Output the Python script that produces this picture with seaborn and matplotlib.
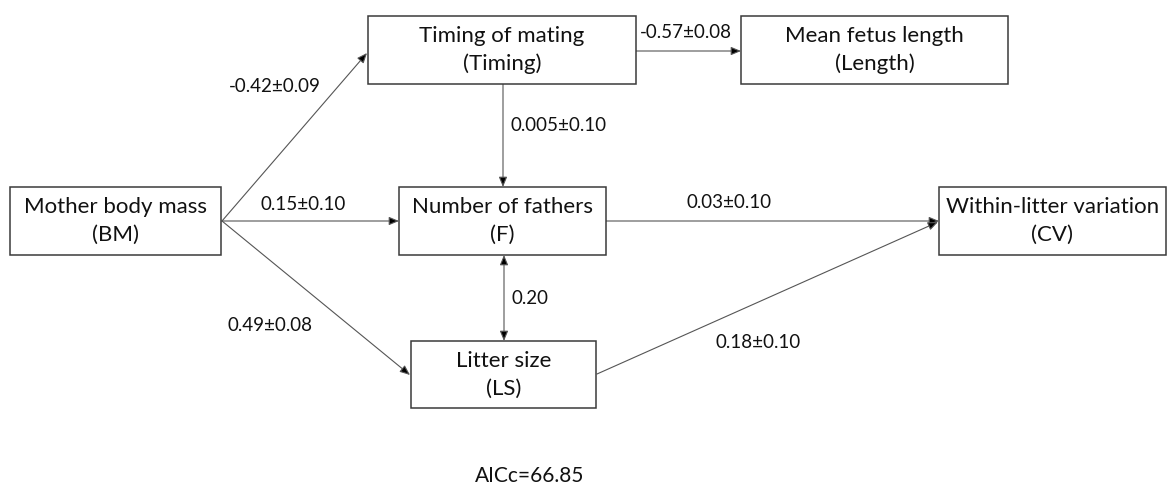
import matplotlib
matplotlib.use("Agg")
import matplotlib.pyplot as plt
from matplotlib.patches import Rectangle
import seaborn as sns

# Path model: nodes (variables) and edges (standardised coefficients)
node_ids = ["BM", "Timing", "Length", "F", "LS", "CV"]
node_titles = ["Mother body mass", "Timing of mating", "Mean fetus length",
               "Number of fathers", "Litter size", "Within-litter variation"]
node_abbr = ["(BM)", "(Timing)", "(Length)", "(F)", "(LS)", "(CV)"]

edge_from = ["BM", "BM", "BM", "Timing", "Timing", "F", "LS", "F"]
edge_to = ["Timing", "F", "LS", "Length", "F", "CV", "CV", "LS"]
edge_coef = ["-0.42±0.09", "0.15±0.10", "0.49±0.08", "-0.57±0.08",
             "0.005±0.10", "0.03±0.10", "0.18±0.10", "0.20"]
edge_twoway = [False, False, False, False, False, False, False, True]

model_fit = "AICc=66.85"

# layout in pixel coordinates (x0, y0, x1, y1) of each box
boxes = {
    "BM": (10, 187, 221, 255),
    "Timing": (368, 16, 636, 84),
    "Length": (741, 16, 1008, 84),
    "F": (399, 187, 606, 255),
    "LS": (411, 341, 596, 408),
    "CV": (939, 187, 1166, 255),
}
# start / end points of each edge, and where its label sits
edge_pts = [((222, 221), (367, 53)), ((222, 221), (399, 221)),
            ((222, 221), (410, 375)), ((636, 51), (741, 51)),
            ((503, 84), (503, 187)), ((606, 221), (939, 221)),
            ((597, 374), (938, 222)), ((504, 255), (504, 341))]
label_pos = [(275, 86), (303, 204), (270, 325), (686, 33),
             (559, 125), (729, 202), (758, 342), (530, 298)]

sns.set_style("white")
plt.rcParams["font.family"] = ["Lato", "DejaVu Sans"]

fig = plt.figure(figsize=(11.68, 4.86), dpi=100)
ax = fig.add_axes([0, 0, 1, 1])
ax.set_xlim(0, 1168)
ax.set_ylim(486, 0)
ax.axis("off")

for nid, title, abbr in zip(node_ids, node_titles, node_abbr):
    x0, y0, x1, y1 = boxes[nid]
    ax.add_patch(Rectangle((x0, y0), x1 - x0, y1 - y0, facecolor="white",
                           edgecolor="#3a3a3a", linewidth=1.1, zorder=2))
    cx, cy = (x0 + x1) / 2, (y0 + y1) / 2
    ax.text(cx, cy - 14, title, ha="center", va="center", fontsize=16,
            color="#111111", zorder=3)
    ax.text(cx, cy + 14, abbr, ha="center", va="center", fontsize=16,
            color="#111111", zorder=3)

for (p0, p1), coef, twoway, lp in zip(edge_pts, edge_coef, edge_twoway, label_pos):
    style = "<|-|>" if twoway else "-|>"
    ax.annotate("", xy=p1, xytext=p0, zorder=1,
                arrowprops=dict(arrowstyle=style + ",head_length=0.6,head_width=0.25",
                                color="#555555", lw=0.8, shrinkA=0, shrinkB=0,
                                fc="black", ec="#555555"))
    ax.text(lp[0], lp[1], coef, ha="center", va="center", fontsize=13.5,
            color="#111111")

ax.text(530, 476, model_fit, ha="center", va="center", fontsize=15,
        color="#111111")

fig.savefig("out.png", dpi=100)
plt.close(fig)
